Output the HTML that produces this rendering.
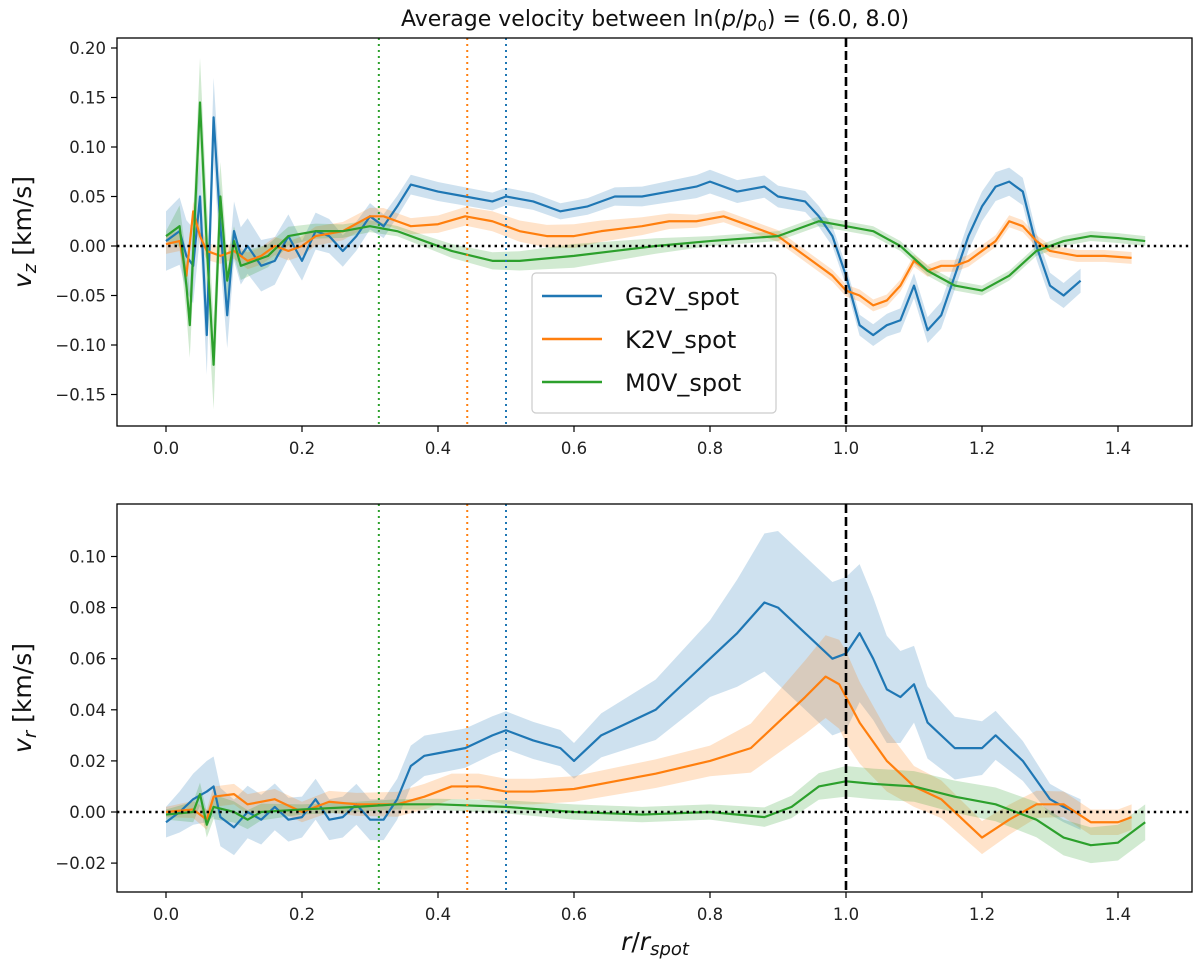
<!DOCTYPE html>
<html><head><meta charset="utf-8"><style>
body{margin:0;background:#fff;}
svg{display:block;font-family:"DejaVu Sans","Liberation Sans",sans-serif;}
</style></head><body>
<svg id="fig" width="1200" height="970" viewBox="0 0 1200 970"></svg>
<script>
// ---- data ----
const seriesNames = ["G2V_spot","K2V_spot","M0V_spot"];
const topTicksY = [-0.15,-0.10,-0.05,0.00,0.05,0.10,0.15,0.20];
const botTicksY = [-0.02,0.00,0.02,0.04,0.06,0.08,0.10];
const ticksX = [0.0,0.2,0.4,0.6,0.8,1.0,1.2,1.4];
const vlinesX = [0.313,0.443,0.5];

const topBlueX = [0,0.01,0.02,0.03,0.04,0.05,0.06,0.07,0.08,0.09,0.1,0.11,0.12,0.14,0.16,0.18,0.2,0.22,0.24,0.26,0.28,0.3,0.32,0.34,0.36,0.4,0.44,0.48,0.5,0.54,0.58,0.62,0.66,0.7,0.74,0.78,0.8,0.84,0.88,0.9,0.94,0.96,0.98,1.0,1.02,1.04,1.06,1.08,1.1,1.12,1.14,1.16,1.18,1.2,1.22,1.24,1.26,1.28,1.3,1.32,1.345];
const topBlueY = [0.005,0.01,0.015,-0.01,-0.02,0.05,-0.09,0.13,0.02,-0.07,0.015,-0.01,0.0,-0.02,-0.015,0.01,-0.015,0.015,0.01,-0.005,0.01,0.03,0.02,0.04,0.062,0.055,0.05,0.045,0.05,0.045,0.035,0.04,0.05,0.05,0.055,0.06,0.065,0.055,0.06,0.05,0.045,0.03,0.01,-0.03,-0.08,-0.09,-0.08,-0.075,-0.04,-0.085,-0.07,-0.03,0.01,0.04,0.06,0.065,0.055,0.0,-0.04,-0.05,-0.035];
const topOrangeX = [0,0.02,0.03,0.04,0.05,0.06,0.08,0.1,0.12,0.14,0.16,0.18,0.2,0.22,0.26,0.3,0.32,0.34,0.36,0.4,0.44,0.48,0.52,0.56,0.6,0.64,0.7,0.74,0.78,0.82,0.86,0.9,0.94,0.98,1.0,1.02,1.04,1.06,1.08,1.1,1.12,1.14,1.16,1.18,1.2,1.22,1.24,1.26,1.28,1.3,1.34,1.38,1.42];
const topOrangeY = [0.002,0.005,-0.03,0.035,0.01,-0.005,-0.01,-0.005,-0.015,-0.01,0.0,-0.005,0.0,0.01,0.015,0.03,0.03,0.025,0.02,0.022,0.03,0.025,0.015,0.01,0.01,0.015,0.02,0.025,0.025,0.03,0.02,0.01,-0.01,-0.03,-0.045,-0.05,-0.06,-0.055,-0.04,-0.015,-0.025,-0.02,-0.02,-0.015,-0.005,0.005,0.025,0.02,0.005,-0.005,-0.01,-0.01,-0.012];
const topGreenX = [0,0.02,0.03,0.035,0.05,0.06,0.07,0.08,0.09,0.1,0.11,0.13,0.15,0.18,0.22,0.26,0.3,0.34,0.38,0.42,0.48,0.52,0.6,0.66,0.72,0.8,0.9,0.96,1.0,1.04,1.08,1.12,1.16,1.2,1.24,1.28,1.32,1.36,1.4,1.44];
const topGreenY = [0.01,0.02,-0.04,-0.08,0.145,0.0,-0.12,0.05,-0.035,0.005,-0.02,-0.015,-0.01,0.01,0.015,0.015,0.02,0.015,0.005,-0.005,-0.015,-0.015,-0.01,-0.005,0.0,0.005,0.01,0.025,0.02,0.015,0.0,-0.025,-0.04,-0.045,-0.03,-0.005,0.005,0.01,0.008,0.005];

const botBlueX = [0,0.02,0.04,0.06,0.07,0.08,0.1,0.12,0.14,0.16,0.18,0.2,0.22,0.24,0.26,0.28,0.3,0.32,0.34,0.36,0.38,0.4,0.44,0.48,0.5,0.54,0.58,0.6,0.64,0.68,0.72,0.76,0.8,0.84,0.88,0.9,0.94,0.98,1.0,1.02,1.04,1.06,1.08,1.1,1.12,1.16,1.2,1.22,1.26,1.3,1.32,1.345];
const botBlueY = [-0.004,0.0,0.005,0.008,0.01,-0.002,-0.006,0.0,-0.003,0.002,-0.003,-0.002,0.005,-0.003,-0.002,0.003,-0.003,-0.003,0.005,0.018,0.022,0.023,0.025,0.03,0.032,0.028,0.025,0.02,0.03,0.035,0.04,0.05,0.06,0.07,0.082,0.08,0.07,0.06,0.062,0.07,0.06,0.048,0.045,0.05,0.035,0.025,0.025,0.03,0.02,0.005,0.002,-0.001];
const botOrangeX = [0,0.04,0.06,0.07,0.1,0.12,0.16,0.2,0.24,0.28,0.34,0.38,0.42,0.46,0.5,0.54,0.6,0.66,0.72,0.8,0.86,0.9,0.94,0.97,0.99,1.0,1.02,1.06,1.1,1.14,1.18,1.2,1.24,1.28,1.32,1.36,1.4,1.42];
const botOrangeY = [0.0,0.001,-0.003,0.006,0.007,0.003,0.005,0.0,0.004,0.003,0.003,0.006,0.01,0.01,0.008,0.008,0.009,0.012,0.015,0.02,0.025,0.035,0.045,0.053,0.05,0.045,0.035,0.02,0.01,0.005,-0.005,-0.01,-0.003,0.003,0.003,-0.004,-0.004,-0.002];
const botGreenX = [0,0.04,0.05,0.06,0.07,0.1,0.12,0.14,0.2,0.28,0.34,0.4,0.5,0.6,0.7,0.8,0.88,0.92,0.96,1.0,1.04,1.1,1.16,1.22,1.28,1.32,1.36,1.4,1.44];
const botGreenY = [-0.001,0.0,0.007,-0.005,0.002,0.0,-0.003,0.0,0.001,0.002,0.003,0.003,0.002,0.0,-0.001,0.0,-0.002,0.002,0.01,0.012,0.011,0.01,0.006,0.003,-0.003,-0.01,-0.013,-0.012,-0.004];

// band half-widths at knots
const topBandX = [0,0.05,0.07,0.1,0.2,0.35,0.6,0.8,1.0,1.2,1.45];
const topBlueBand = [0.03,0.04,0.04,0.03,0.02,0.01,0.008,0.012,0.01,0.015,0.01];
const topOrangeBand = [0.01,0.01,0.008,0.008,0.01,0.008,0.012,0.006,0.006,0.006,0.006];
const topGreenBand = [0.005,0.045,0.045,0.015,0.008,0.005,0.012,0.005,0.005,0.005,0.005];
const botBandX = [0,0.06,0.2,0.36,0.6,0.8,0.9,1.0,1.1,1.3,1.45];
const botBlueBand = [0.006,0.012,0.008,0.008,0.007,0.015,0.03,0.03,0.015,0.006,0.006];
const botOrangeBand = [0.002,0.004,0.004,0.005,0.005,0.006,0.012,0.018,0.008,0.005,0.005];
const botGreenBand = [0.002,0.005,0.002,0.002,0.003,0.003,0.004,0.006,0.006,0.007,0.007];

// ---- layout ----
const NS="http://www.w3.org/2000/svg";
const svg=document.getElementById('fig');
const colors=["#1f77b4","#ff7f0e","#2ca02c"];
const L=117,R=1192;
const xs=v=>166+v*680;
function mk(tag,attrs,parent){const e=document.createElementNS(NS,tag);for(const k in attrs)e.setAttribute(k,attrs[k]);(parent||svg).appendChild(e);return e;}
function interp(kx,kv,x){if(x<=kx[0])return kv[0];for(let i=1;i<kx.length;i++){if(x<=kx[i]){const t=(x-kx[i-1])/(kx[i]-kx[i-1]);return kv[i-1]+t*(kv[i]-kv[i-1]);}}return kv[kv.length-1];}

function panel(name,top,bot,ys,ticksYv,fmt,data,bandX){
  const g=mk('g',{});
  
  
  const clip=mk('clipPath',{id:'c'+name},g);
  mk('rect',{x:L,y:top,width:R-L,height:bot-top},clip);
  const pg=mk('g',{'clip-path':'url(#c'+name+')'},g);
  data.forEach((d,i)=>{
    let up='',dn='';
    d.x.forEach((x,j)=>{const b=interp(bandX,d.band,x);up+=(j?'L':'M')+xs(x)+','+ys(d.y[j]+b);});
    for(let j=d.x.length-1;j>=0;j--){const b=interp(bandX,d.band,d.x[j]);dn+='L'+xs(d.x[j])+','+ys(d.y[j]-b);}
    const p=mk('path',{d:up+dn+'Z',fill:colors[i],'fill-opacity':0.22,stroke:'none'},pg);
    
    
  });
  data.forEach((d,i)=>{
    const dd=d.x.map((x,j)=>(j?'L':'M')+xs(x)+','+ys(d.y[j])).join('');
    const p=mk('path',{d:dd,fill:'none',stroke:colors[i],'stroke-width':2.2,'stroke-linejoin':'round'},pg);
    
    
  });
  vlinesX.forEach((v,i)=>{
    const l=mk('line',{x1:xs(v),x2:xs(v),y1:top,y2:bot,stroke:[colors[2],colors[1],colors[0]][i],'stroke-width':2,'stroke-dasharray':'2,4'},g);
    
    
  });
  const dl=mk('line',{x1:xs(1),x2:xs(1),y1:top,y2:bot,stroke:'#000','stroke-width':2.6,'stroke-dasharray':'9,4'},g);
  
  
  const zl=mk('line',{x1:L,x2:R,y1:ys(0),y2:ys(0),stroke:'#000','stroke-width':2.4,'stroke-dasharray':'2.4,4'},g);
  
  
  mk('rect',{x:L,y:top,width:R-L,height:bot-top,fill:'none',stroke:'#000','stroke-width':1.3},g);
  ticksYv.forEach(t=>{
    mk('line',{x1:L-6,x2:L,y1:ys(t),y2:ys(t),stroke:'#000','stroke-width':1.2},g);
    const tx=mk('text',{x:L-11,y:ys(t)+6,'text-anchor':'end','font-size':16.5,fill:'#222'},g);
    tx.textContent=fmt(t);
    
    
  });
  ticksX.forEach(t=>{
    mk('line',{x1:xs(t),x2:xs(t),y1:bot,y2:bot+6,stroke:'#000','stroke-width':1.2},g);
    const tx=mk('text',{x:xs(t),y:bot+28,'text-anchor':'middle','font-size':16.5,fill:'#222'},g);
    tx.textContent=t.toFixed(1);
    
    
  });
}
const fmtY=d=>t=>(t<0?'\u2212':'')+Math.abs(t).toFixed(d);
const ysTop=v=>246-v*990;
const ysBot=v=>812-v*2555;
panel('top-panel',38,426,ysTop,topTicksY,fmtY(2),[
  {x:topBlueX,y:topBlueY,band:topBlueBand},{x:topOrangeX,y:topOrangeY,band:topOrangeBand},{x:topGreenX,y:topGreenY,band:topGreenBand}],topBandX);
panel('bottom-panel',504,892,ysBot,botTicksY,fmtY(2),[
  {x:botBlueX,y:botBlueY,band:botBlueBand},{x:botOrangeX,y:botOrangeY,band:botOrangeBand},{x:botGreenX,y:botGreenY,band:botGreenBand}],botBandX);

// legend
const lg=mk('g',{});


mk('rect',{x:532,y:273,width:244,height:140,rx:4,fill:'#fff','fill-opacity':0.85,stroke:'#ccc','stroke-width':1.2},lg);
seriesNames.forEach((n,i)=>{
  const y=296+i*43;
  mk('line',{x1:542,x2:602,y1:y,y2:y,stroke:colors[i],'stroke-width':2.5},lg);
  const t=mk('text',{x:625,y:y+9,'font-size':24,fill:'#111'},lg);
  t.textContent=n;
  
  
});

// titles
const ti=mk('text',{x:655,y:26,'text-anchor':'middle','font-size':22,fill:'#111'});
ti.innerHTML='Average velocity between ln(<tspan font-style="italic">p</tspan>/<tspan font-style="italic">p</tspan><tspan font-size="15" dy="5">0</tspan><tspan dy="-5">) = (6.0, 8.0)</tspan>';


const yl1=mk('text',{transform:'translate(31,232) rotate(-90)','text-anchor':'middle','font-size':25,fill:'#111'});
yl1.innerHTML='<tspan font-style="italic">v</tspan><tspan font-style="italic" font-size="18" dy="5">z</tspan><tspan dy="-5"> [km/s]</tspan>';


const yl2=mk('text',{transform:'translate(31,698) rotate(-90)','text-anchor':'middle','font-size':25,fill:'#111'});
yl2.innerHTML='<tspan font-style="italic">v</tspan><tspan font-style="italic" font-size="18" dy="5">r</tspan><tspan dy="-5"> [km/s]</tspan>';


const xl=mk('text',{x:655,y:950,'text-anchor':'middle','font-size':25,fill:'#111'});
xl.innerHTML='<tspan font-style="italic">r</tspan>/<tspan font-style="italic">r</tspan><tspan font-style="italic" font-size="18" dy="5">spot</tspan>';


</script>
</body></html>
